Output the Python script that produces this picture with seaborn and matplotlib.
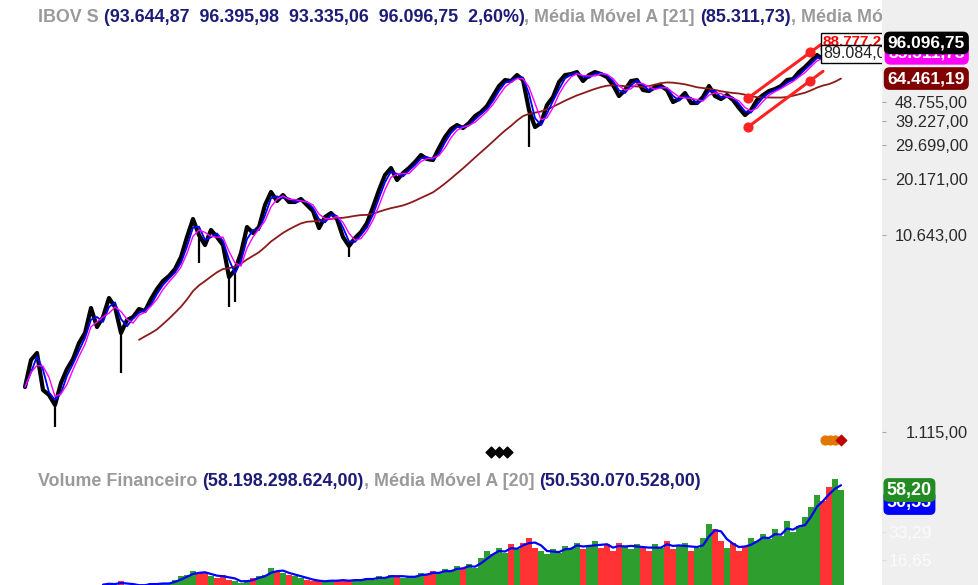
import numpy as np
import pandas as pd
import matplotlib
matplotlib.use("Agg")
import matplotlib.pyplot as plt
import seaborn as sns
from matplotlib.transforms import IdentityTransform, blended_transform_factory
from matplotlib.ticker import NullLocator, FixedLocator, FuncFormatter

# --- DATA (IBOV weekly, one value per sample) ---
close = [1866, 2542, 2754, 1803, 1702, 1518, 1953, 2293, 2571, 3088,
         3463, 4612, 3710, 4159, 5171, 4665, 3463, 4019, 4159, 4559,
         4456, 5112, 5733, 6283, 6653, 7210, 8271, 10399, 12783, 10641,
         9489, 11272, 10399, 9489, 6577, 7128, 8659, 11660, 10889, 11660,
         15010, 17414, 15715, 16827, 15537, 15537, 16078, 15010, 14010, 11527,
         13080, 13693, 12783, 10399, 9382, 10282, 11013, 12209, 14668, 17820,
         21160, 22930, 19980, 21650, 22930, 24560, 26610, 25420, 25130, 28830,
         32700, 35840, 37520, 36250, 38390, 41590, 43540, 46650, 52310, 58670,
         62840, 62130, 66530, 62840, 44560, 36670, 38390, 47190, 51720, 61420,
         66530, 67300, 68850, 62130, 66530, 68850, 67300, 65030, 59350, 52310,
         56040, 62130, 62840, 56040, 55400, 58000, 58670, 56040, 48840, 50540,
         54140, 48280, 48280, 51720, 58670, 52310, 50540, 52910, 49960, 45590,
         42070, 44560, 49960, 52910, 55400, 56690, 58670, 62840, 63560, 68850,
         72920, 78090, 83660, 79910, 78090, 85600, 96097]

# long lower wicks (sample index, low)
wick_idx = [5, 16, 29, 34, 35, 54, 84]
wick_low = [1180, 2190, 7720, 4665, 4940, 8271, 29160]

# financial volume in billions, starting at sample 13
vol_start = 13
volume = [2, 3, 2, 4, 2, 1, 2, 2, 3, 2,
          3, 3, 5, 7, 8, 10, 9, 9, 7, 6,
          8, 5, 4, 3, 5, 6, 7, 8, 12, 10,
          9, 8, 7, 6, 5, 4, 4, 4, 5, 4,
          5, 4, 5, 5, 6, 5, 7, 6, 8, 7,
          6, 7, 7, 9, 8, 10, 9, 11, 10, 13,
          12, 14, 12, 18, 22, 20, 24, 21, 26, 23,
          27, 30, 24, 22, 20, 23, 21, 25, 24, 27,
          23, 25, 28, 24, 26, 22, 27, 25, 23, 26,
          24, 22, 26, 24, 28, 23, 25, 27, 22, 24,
          30, 38, 35, 28, 24, 27, 22, 25, 30, 28,
          32, 29, 35, 31, 40, 33, 37, 42, 48, 55,
          52, 60, 65, 58.2]

# trend channel drawn by the user (sample index, price)
chan_idx = [120.5, 130.8, 133]
chan_upper = [51100, 86600, 96000]
chan_lower = [36700, 62100, 69500]

# event markers under the price panel
ev_black = [77.6, 79.0, 80.3]
ev_orange = [133.4, 134.2, 135.0]
ev_red = [136.0]

price_ticks = [1115, 10643, 20171, 29699, 39227, 48755]
vol_ticks = [16.65, 33.29]

# --- FRAMES ---
df = pd.DataFrame({"idx": np.arange(len(close)), "close": close})
df["ma_fast"] = df["close"].rolling(2, min_periods=1).mean()
df["ma21"] = df["close"].rolling(3, min_periods=1).mean()
df["ma_long"] = df["close"].rolling(20).mean()

vdf = pd.DataFrame({"idx": np.arange(vol_start, vol_start + len(volume)), "vol": volume})
vdf["ma20"] = vdf["vol"].rolling(3, min_periods=1).mean()
up = df["close"].diff().fillna(0).values[vol_start:vol_start + len(volume)] >= 0
vdf["color"] = np.where(up, "#2e9e2e", "#ff3333")

def br_fmt(v, pos=None):
    s = f"{v:,.2f}"
    return s.replace(",", "X").replace(".", ",").replace("X", ".")

# --- FIGURE ---
sns.set_theme(style="white")
plt.rcParams["font.family"] = ["Liberation Sans", "DejaVu Sans"]

W, H = 979, 585
fig = plt.figure(figsize=(W / 100, H / 100), dpi=100, facecolor="#efefef")
right_px = 882
ax = fig.add_axes([0, 130 / H, right_px / W, 455 / H])
axv = fig.add_axes([0, 0, right_px / W, 120 / H])
fig.patches.append(plt.Rectangle((0, 0), right_px / W, 1, transform=fig.transFigure,
                                 facecolor="white", edgecolor="none", zorder=-5))

xlim = (-25 / 6, (right_px - 25) / 6)

# price panel
ax.set_yscale("log")
ax.vlines(wick_idx, wick_low, [close[i] for i in wick_idx], color="black", lw=1.6, zorder=2)
sns.lineplot(data=df, x="idx", y="close", ax=ax, color="black", lw=3.0, estimator=None, zorder=2)
sns.lineplot(data=df, x="idx", y="ma_long", ax=ax, color="#8b1a1a", lw=1.3, estimator=None, zorder=3)
sns.lineplot(data=df, x="idx", y="ma_fast", ax=ax, color="#0000ff", lw=1.3, estimator=None, zorder=4)
sns.lineplot(data=df, x="idx", y="ma21", ax=ax, color="#ff00ff", lw=1.0, estimator=None, zorder=5)

ax.plot([chan_idx[0], chan_idx[2]], [chan_upper[0], chan_upper[2]], color="#ff2222", lw=2.2, zorder=6)
ax.plot([chan_idx[0], chan_idx[2]], [chan_lower[0], chan_lower[2]], color="#ff2222", lw=2.2, zorder=6)
ax.scatter(chan_idx[:2] * 2, chan_upper[:2] + chan_lower[:2], s=40, color="#ff2222", zorder=7)
ax.text(chan_idx[2], chan_upper[2] * 1.02, "88.777,22", color="#ff0000", fontsize=11,
        fontweight="bold", va="center", ha="left", clip_on=True, zorder=8,
        bbox=dict(boxstyle="square,pad=0.1", fc="white", ec="black", lw=1))
ax.text(chan_idx[2], chan_lower[2] * 1.22, "89.084,00", color="#222222", fontsize=11.5,
        va="center", ha="left", clip_on=True, zorder=8,
        bbox=dict(boxstyle="square,pad=0.1", fc="white", ec="black", lw=1))

bt = blended_transform_factory(ax.transData, ax.transAxes)
ax.scatter(ev_black, [0.006] * len(ev_black), transform=bt, marker="D", s=30, color="black",
           clip_on=False, zorder=8)
ax.scatter(ev_orange, [0.033] * len(ev_orange), transform=bt, marker="o", s=40, color="#e07800",
           clip_on=False, zorder=8)
ax.scatter(ev_red, [0.033] * len(ev_red), transform=bt, marker="D", s=28, color="#c00000",
           clip_on=False, zorder=9)

ax.set_xlim(*xlim)
ax.set_ylim(856, 157200)
ax.yaxis.set_major_locator(FixedLocator(price_ticks))
ax.yaxis.set_minor_locator(NullLocator())
ax.yaxis.set_major_formatter(FuncFormatter(br_fmt))
ax.yaxis.tick_right()
ax.tick_params(axis="y", which="major", right=True, length=3, width=0.8, color="#aaaaaa",
               pad=59, labelsize=11.8, labelcolor="#2a2a2a")
for lab in ax.get_yticklabels():
    lab.set_horizontalalignment("right")
ax.set_xticks([])
ax.set_xlabel("")
ax.set_ylabel("")
for s in ax.spines.values():
    s.set_visible(False)
ax.set_facecolor("white")

yt = blended_transform_factory(ax.transAxes, ax.transData)
lx = 965 / right_px
last_ma = [(df["ma_long"].iloc[-1], "64.461,19", "#800000"),
           (85311.73, "85.311,73", "#ff00ff"),
           (close[-1], "96.096,75", "black")]
for val, txt, col in last_ma:
    ax.text(lx, val, txt, transform=yt, ha="right", va="center", color="white", fontsize=12.5,
            fontweight="bold", clip_on=False, zorder=10,
            bbox=dict(boxstyle="round,pad=0.18,rounding_size=0.3", fc=col, ec=col))

# volume panel
axv.bar(vdf["idx"], vdf["vol"], width=0.95, color=vdf["color"], linewidth=0, zorder=2)
sns.lineplot(data=vdf, x="idx", y="ma20", ax=axv, color="#0000ff", lw=1.6, estimator=None,
             zorder=3)
axv.set_xlim(*xlim)
axv.set_ylim(1.78, 73.1)
axv.yaxis.set_major_locator(FixedLocator(vol_ticks))
axv.yaxis.set_major_formatter(FuncFormatter(lambda v, p: f"{v:.2f}".replace(".", ",")))
axv.yaxis.tick_right()
axv.tick_params(axis="y", right=True, length=3, width=0.8, color="#dddddd", pad=33,
                labelsize=12.5, labelcolor="#fbfbfb")
for lab in axv.get_yticklabels():
    lab.set_horizontalalignment("right")
axv.set_xticks([])
axv.set_xlabel("")
axv.set_ylabel("")
for s in axv.spines.values():
    s.set_visible(False)
axv.set_facecolor("white")

vt = blended_transform_factory(axv.transAxes, axv.transData)
vx = 932 / right_px
for val, txt, col in [(50.53, "50,53", "#0000ff"),
                      (volume[-1], "58,20", "#228b22")]:
    axv.text(vx, val, txt, transform=vt, ha="right", va="center", color="white", fontsize=13,
             fontweight="bold", clip_on=False, zorder=10,
             bbox=dict(boxstyle="round,pad=0.15,rounding_size=0.25", fc=col, ec=col))

# header rows
fig.canvas.draw()
renderer = fig.canvas.get_renderer()
GRAY, NAVY = "#9a9a9a", "#1c1c78"

def header(axis, x_px, y_px, parts):
    for txt, col in parts:
        t = axis.text(x_px, H - y_px, txt, transform=IdentityTransform(), color=col, fontsize=12.9,
                      fontweight="bold", va="center", ha="left", clip_on=True, zorder=12)
        x_px += t.get_window_extent(renderer).width

header(ax, 38, 18, [("IBOV S ", GRAY),
                    ("(93.644,87  96.395,98  93.335,06  96.096,75  2,60%)", NAVY),
                    (", Média Móvel A [21] ", GRAY), ("(85.311,73)", NAVY),
                    (", Média Móvel A [200] (64.461,19)", GRAY)])
header(axv, 38, 481, [("Volume Financeiro ", GRAY), ("(58.198.298.624,00)", NAVY),
                      (", Média Móvel A [20] ", GRAY), ("(50.530.070.528,00)", NAVY)])

fig.savefig("out.png", dpi=100, facecolor=fig.get_facecolor())
